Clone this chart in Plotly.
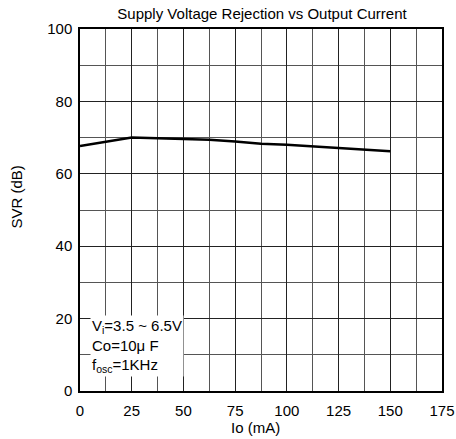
import plotly.graph_objects as go

io_ma = [0, 12.5, 25, 37.5, 50, 62.5, 75, 87.5, 100, 112.5, 125, 137.5, 150]
svr_db = [67.7, 68.8, 70.0, 69.8, 69.7, 69.4, 68.9, 68.3, 68.0, 67.6, 67.2, 66.6, 66.2]
x_ticks = [0, 25, 50, 75, 100, 125, 150, 175]
y_ticks = [0, 20, 40, 60, 80, 100]

W, H = 456, 439
L, R, T, B = 80, 14, 29, 48

fig = go.Figure()
fig.add_trace(go.Scatter(x=io_ma, y=svr_db, mode="lines",
                         line=dict(color="black", width=2.5), showlegend=False))

font = dict(family="Liberation Sans, Arial, sans-serif", color="black")
pw, ph = W - L - R, H - T - B

def px_x(p):
    return (p - L) / pw

def px_y(p):
    return (H - B - p) / ph

fig.update_layout(
    width=W, height=H,
    margin=dict(l=L, r=R, t=T, b=B),
    paper_bgcolor="white", plot_bgcolor="white",
    font=dict(size=15, **font),
    title=dict(text="Supply Voltage Rejection vs Output Current",
               x=262 / W, xanchor="center", y=1 - 14 / H, yanchor="middle",
               font=dict(size=15, **font)),
    annotations=[
        dict(x=4.6, y=3.8, xref="x", yref="y", xanchor="left", yanchor="bottom",
             text="V<sub>i</sub>=3.5 ~ 6.5V<br>Co=10μ F<br>f<sub>osc</sub>=1KHz",
             align="left", showarrow=False, bgcolor="white", borderpad=1,
             font=dict(size=15, **font)),
        dict(x=px_x(255), y=px_y(428), xref="paper", yref="paper",
             xanchor="center", yanchor="middle", text="Io (mA)", showarrow=False,
             font=dict(size=15, **font)),
        dict(x=px_x(15.5), y=px_y(197), xref="paper", yref="paper",
             xanchor="center", yanchor="middle", text="SVR (dB)", showarrow=False,
             textangle=-90, font=dict(size=15, **font)),
    ],
)
fig.update_xaxes(range=[0, 175], tickvals=x_ticks, ticks="outside", ticklen=5,
                 tickcolor="rgba(0,0,0,0)", showgrid=True, gridcolor="#222", gridwidth=1,
                 minor=dict(dtick=12.5, tick0=0, showgrid=True, gridcolor="#555", gridwidth=1),
                 showline=True, linecolor="black", linewidth=1.5, mirror=True,
                 zeroline=False, automargin=False)
fig.update_yaxes(range=[0, 100], tickvals=y_ticks, ticks="outside", ticklen=3,
                 tickcolor="rgba(0,0,0,0)", showgrid=True, gridcolor="#222", gridwidth=1,
                 minor=dict(dtick=10, tick0=0, showgrid=True, gridcolor="#555", gridwidth=1),
                 showline=True, linecolor="black", linewidth=1.5, mirror=True,
                 zeroline=False, automargin=False)

fig.write_html("out.html", config={"displayModeBar": False},
               post_script="document.body.style.margin='0';")
